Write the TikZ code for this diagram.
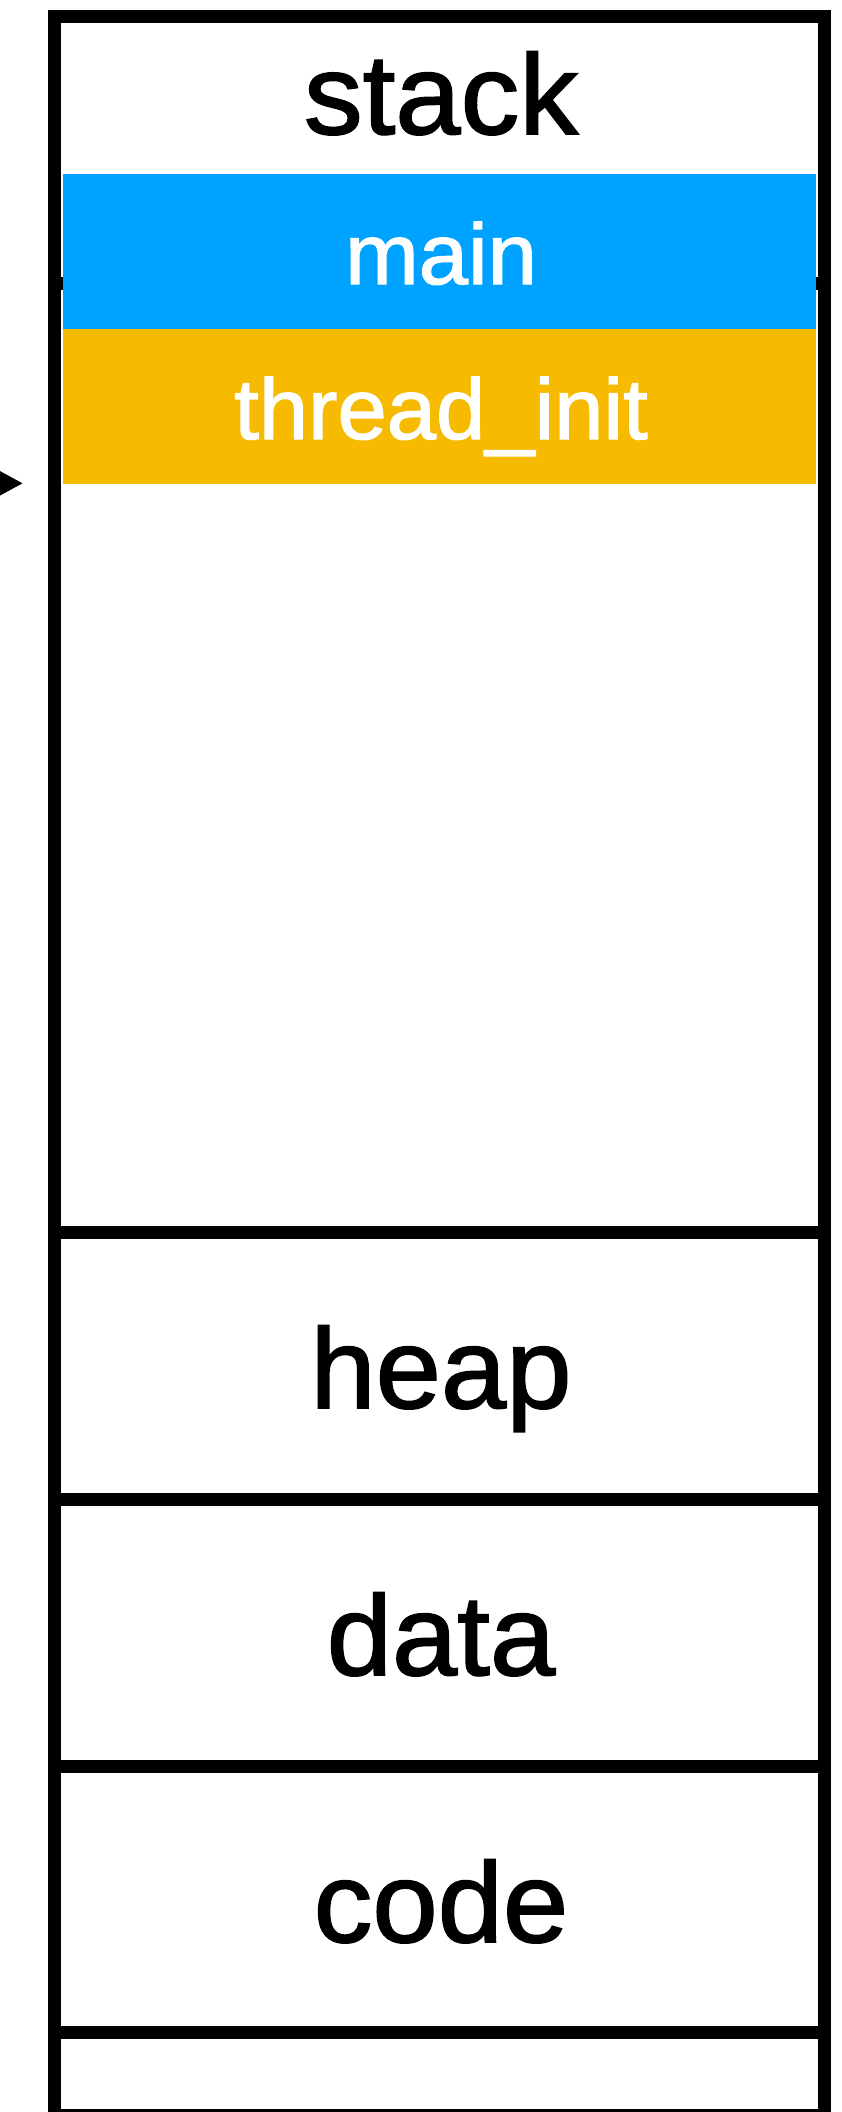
\documentclass[tikz,border=0pt]{standalone}
\usepackage{fontspec}
\setmainfont{Liberation Sans}[FakeStretch=1.03,FakeBold=1.5]
\usetikzlibrary{arrows.meta}
\definecolor{kblue}{RGB}{0,162,255}
\definecolor{kyellow}{RGB}{246,186,0}
\tikzset{
  frameline/.style={line width=13pt, draw=black},
  bigtext/.style={anchor=base, inner sep=0pt, text=black, font=\fontsize{114}{130}\selectfont},
  boxtext/.style={anchor=base, inner sep=0pt, text=white, font=\fontsize{86}{100}\selectfont},
}
\begin{document}
\begin{tikzpicture}[x=1pt, y=-1pt]
\useasboundingbox (0,0) rectangle (842,2112);
\fill[white] (0,0) rectangle (842,2112);
% hidden divider peeking out behind main frame
\draw[frameline] (54.5,283.5) -- (824,283.5);
% stack frames
\fill[kblue] (62.5,174) rectangle (816,329);
\fill[kyellow] (62.5,329) rectangle (816,484);
% outer frame
\draw[frameline] (54.5,16.5) rectangle (824,2115);
% dividers
\coordinate (l1a) at (54.5,1232.5); \coordinate (l1b) at (824,1232.5);
\coordinate (l2a) at (54.5,1499.5); \coordinate (l2b) at (824,1499.5);
\coordinate (l3a) at (54.5,1766);   \coordinate (l3b) at (824,1766);
\coordinate (l4a) at (54.5,2032.5); \coordinate (l4b) at (824,2032.5);
\draw[frameline] (l1a) -- (l1b);
\draw[frameline] (l2a) -- (l2b);
\draw[frameline] (l3a) -- (l3b);
\draw[frameline] (l4a) -- (l4b);
% labels
\node[bigtext] (stack) at (441,134) {stack};
\node[boxtext] (main) at (441,284) {main};
\node[boxtext] (thread) at (441,439) {thread\_init};
\node[bigtext] (heap) at (441,1408) {heap};
\node[bigtext] (data) at (441,1675) {data};
\node[bigtext] (code) at (441,1942) {code};
% stack pointer arrow
\coordinate (spfrom) at (-60,483.3);
\coordinate (spto) at (22.7,483.3);
\draw[line width=4pt, -{Triangle[length=22.7pt,width=23.3pt]}] (spfrom) -- (spto);
\end{tikzpicture}
\end{document}
